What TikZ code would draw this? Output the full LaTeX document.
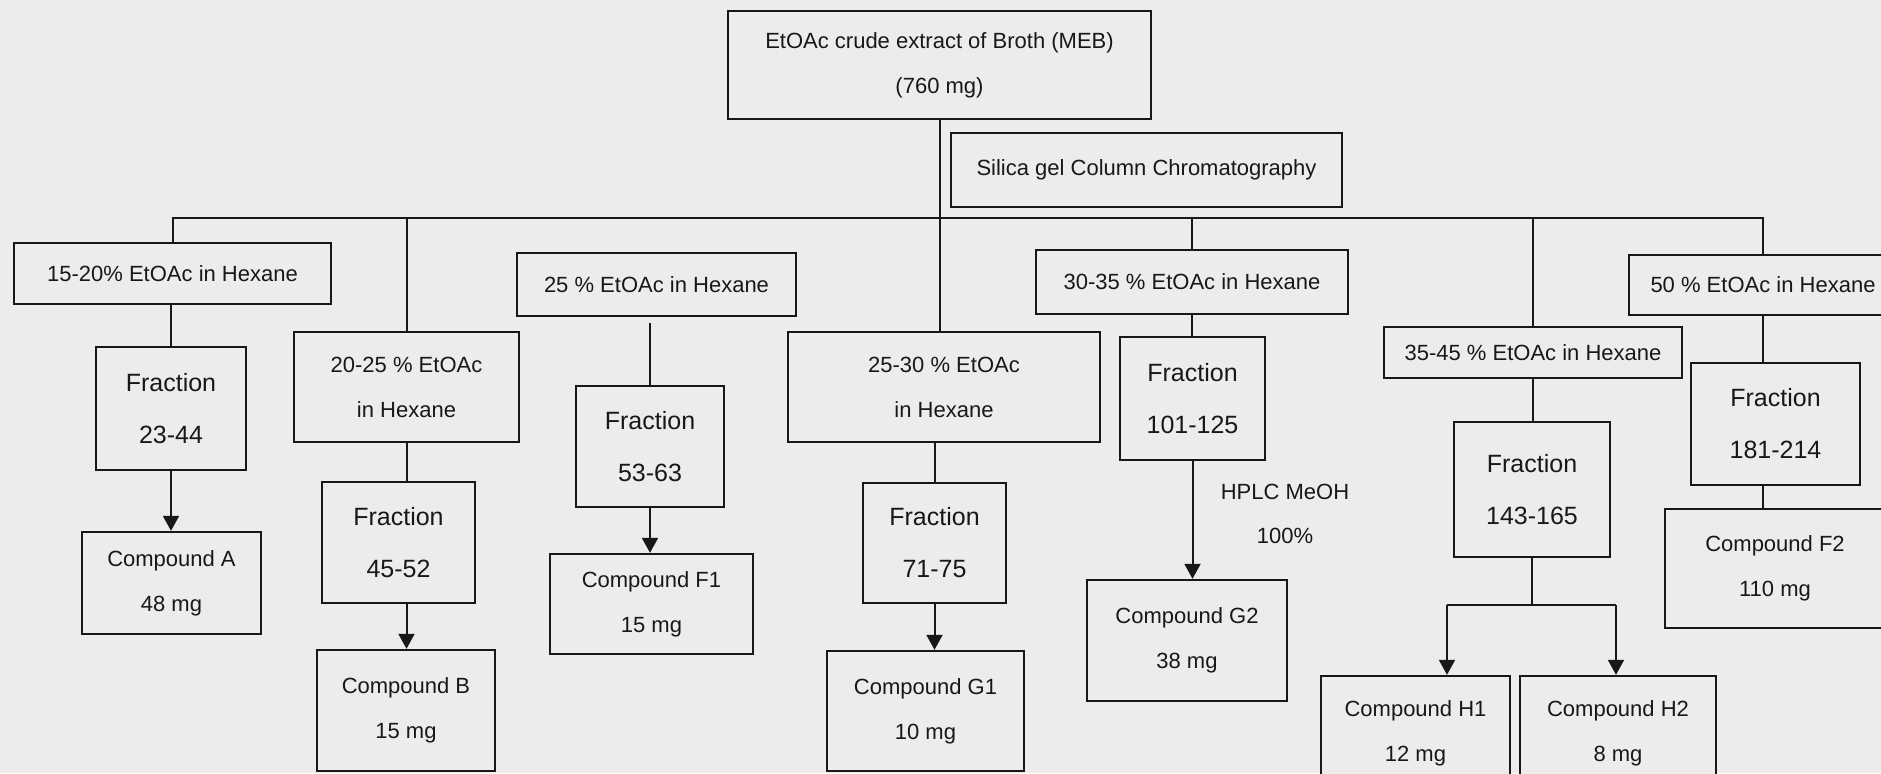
\documentclass[tikz,border=0pt]{standalone}
\usepackage{fontspec}
\setmainfont{Liberation Sans}
\usetikzlibrary{arrows.meta}

\definecolor{paper}{RGB}{236,236,236}
\definecolor{ink}{RGB}{24,24,24}

\tikzset{
  box/.style={draw=ink, line width=1.2pt, fill=paper, rectangle, inner sep=0pt,
              align=center, text=ink, font=\fontsize{11pt}{22.5pt}\selectfont},
  frac/.style={box, font=\fontsize{12.5pt}{26pt}\selectfont},
  note/.style={align=center, text=ink, inner sep=0pt, font=\fontsize{11pt}{22pt}\selectfont},
  link/.style={draw=ink, line width=1pt},
  feed/.style={link, -{Triangle[width=8pt,length=7.5pt]}},
}

% \placebox{style}{name}{x1}{y1}{x2}{y2}{text}: a box given by its corners (pixel grid, y downwards)
\newcommand\placebox[7]{%
  \node[#1, minimum width={(#5-#3)*0.5pt}, minimum height={(#6-#4)*0.5pt}]
    (#2) at ({(#3+#5)/2},{(#4+#6)/2}) {#7};}

\begin{document}
\begin{tikzpicture}[x=0.5pt, y=-0.5pt]
  \fill[paper] (0,0) rectangle (1881,773);
  \useasboundingbox (0,0) rectangle (1881,773);
  \clip (0,0) rectangle (1881,773);

  % crude extract and separation step
  \placebox{box}{top}{728}{11}{1151}{119}{EtOAc crude extract of Broth (MEB)\\(760 mg)}
  \placebox{box}{silica}{951}{133}{1342}{207}{Silica gel Column Chromatography}

  % elution solvents
  \placebox{box}{b1520}{14}{243}{331}{304}{15-20\% EtOAc in Hexane}
  \placebox{box}{b2025}{294}{332}{519}{442}{20-25 \% EtOAc\\in Hexane}
  \placebox{box}{b25}{517}{253}{796}{316}{25 \% EtOAc in Hexane}
  \placebox{box}{b2530}{788}{332}{1100}{442}{25-30 \% EtOAc\\in Hexane}
  \placebox{box}{b3035}{1036}{250}{1348}{314}{30-35 \% EtOAc in Hexane}
  \placebox{box}{b3545}{1384}{327}{1682}{378}{35-45 \% EtOAc in Hexane}
  \placebox{box}{b50}{1629}{255}{1897}{315}{50 \% EtOAc in Hexane}

  % fractions
  \placebox{frac}{f2344}{96}{347}{246}{470}{Fraction\\23-44}
  \placebox{frac}{f4552}{322}{482}{475}{603}{Fraction\\45-52}
  \placebox{frac}{f5363}{576}{386}{724}{507}{Fraction\\53-63}
  \placebox{frac}{f7175}{863}{483}{1006}{603}{Fraction\\71-75}
  \placebox{frac}{f101}{1120}{337}{1265}{460}{Fraction\\101-125}
  \placebox{frac}{f143}{1454}{422}{1610}{557}{Fraction\\143-165}
  \placebox{frac}{f181}{1691}{363}{1860}{485}{Fraction\\181-214}

  % isolated compounds
  \placebox{box}{cA}{82}{532}{261}{634}{Compound A\\48 mg}
  \placebox{box}{cB}{317}{650}{495}{771}{Compound B\\15 mg}
  \placebox{box}{cF1}{550}{554}{753}{654}{Compound F1\\15 mg}
  \placebox{box}{cG1}{827}{651}{1024}{771}{Compound G1\\10 mg}
  \placebox{box}{cG2}{1087}{580}{1287}{701}{Compound G2\\38 mg}
  \placebox{box}{cH1}{1321}{676}{1510}{790}{Compound H1\\12 mg}
  \placebox{box}{cH2}{1520}{676}{1716}{790}{Compound H2\\8 mg}
  \placebox{box}{cF2}{1665}{509}{1885}{628}{Compound F2\\110 mg}

  \node[note] (hplc) at (1285,514) {HPLC MeOH\\100\%};

  % distribution bus below the crude extract
  \coordinate (bus) at (0,218);
  \draw[link] (top.south) -- (top.south |- b2530.north);
  \draw[link] (b1520.north) -- (b1520.north |- bus) -- (b50.north |- bus) -- (b50.north);
  \foreach \n in {b2025,b3035,b3545}
    \draw[link] (\n.north) -- (\n.north |- bus);

  % solvent -> fraction -> compound
  \draw[link] (b1520.south -| f2344.north) -- (f2344.north);
  \draw[feed] (f2344.south) -- (f2344.south |- cA.north);

  \draw[link] (b2025.south) -- (b2025.south |- f4552.north);
  \draw[feed] (b2025.south |- f4552.south) -- (b2025.south |- cB.north);

  \draw[link, shorten <=3pt] (f5363.north |- b25.south) -- (f5363.north);
  \draw[feed] (f5363.south) -- (f5363.south |- cF1.north);

  \draw[link] (f7175.north |- b2530.south) -- (f7175.north);
  \draw[feed] (f7175.south) -- (f7175.south |- cG1.north);

  \draw[link] (b3035.south) -- (b3035.south |- f101.north);
  \draw[feed] (f101.south) -- (f101.south |- cG2.north);

  \draw[link] (b3545.south) -- (b3545.south |- f143.north);
  \coordinate (hL) at (1447,605);
  \coordinate (hR) at (1616,605);
  \draw[link] (f143.south) -- (f143.south |- hL);
  \draw[link] (hL) -- (hR);
  \draw[feed] (hL) -- (hL |- cH1.north);
  \draw[feed] (hR) -- (hR |- cH2.north);

  \draw[link] (b50.south) -- (b50.south |- f181.north);
  \draw[link] (b50.south |- f181.south) -- (b50.south |- cF2.north);
\end{tikzpicture}
\end{document}
